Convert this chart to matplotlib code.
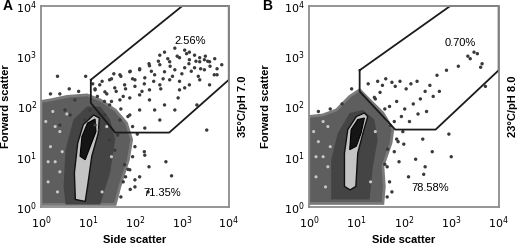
import matplotlib.pyplot as plt
import numpy as np
from matplotlib.patches import Polygon

plt.rcParams['font.family'] = ['Liberation Sans', 'DejaVu Sans']

# all coordinates are log10 of side scatter (x) and forward scatter (y)
TICKS = [0, 1, 2, 3, 4]
TICK_LABELS = ['$10^{0}$', '$10^{1}$', '$10^{2}$', '$10^{3}$', '$10^{4}$']

# panel A, 35C / pH 7.0
gate_a = [(1.06, 2.53), (3.01, 4.0), (4.0, 4.0), (4.0, 2.53), (2.73, 1.48), (1.58, 1.48), (1.06, 2.07)]
cloud_a = [(0, 0.05), (1.58, 0.05), (1.68, 0.41), (1.86, 0.94), (1.93, 1.34), (1.82, 1.67), (1.58, 1.93),
           (1.26, 2.13), (0.98, 2.23), (0.55, 2.20), (0.20, 2.13), (0, 2.10)]
mid_a = [(0.52, 0.05), (1.26, 0.05), (1.47, 0.68), (1.58, 1.34), (1.47, 1.74), (1.26, 2.0), (0.98, 2.0),
         (0.69, 1.74), (0.52, 1.14), (0.48, 0.41)]
ring_a = [(0.73, 0.15), (0.71, 0.68), (0.78, 1.27), (0.90, 1.64), (1.12, 1.83), (1.24, 1.77), (1.22, 1.47),
          (1.08, 1.01), (0.99, 0.41), (0.94, 0.11)]
core_a = [(0.83, 1.01), (0.87, 1.40), (0.99, 1.67), (1.15, 1.75), (1.17, 1.50), (1.05, 1.21), (0.94, 0.94)]
dots_ax = [2.53, 2.63, 2.85, 3.06, 3.16, 3.27, 3.38, 3.48, 3.59, 3.38, 3.16, 2.95, 2.74, 2.53, 2.31, 2.10,
           1.89, 1.68, 1.46, 1.25, 1.15, 1.36, 1.57, 1.78, 2.0, 2.21, 2.42, 2.63, 2.85, 3.06, 3.27, 3.48,
           3.69, 2.74, 2.53, 2.31, 2.10, 1.89, 1.68, 1.46, 1.36, 2.95, 3.16, 3.38, 2.85, 2.63, 2.42, 1.68,
           1.89, 2.10, 2.31, 2.66, 2.21, 1.89, 2.0, 1.78, 1.57, 1.63, 1.46, 1.25, 1.15, 0.93, 0.62, 0.40,
           0.51, 0.72, 1.04, 2.21, 2.53, 2.92, 3.06, 3.59, 3.32, 2.28, 2.78, 3.53, 3.85, 3.75, 2.0, 1.8,
           1.1, 1.2, 1.3, 1.4, 1.5, 1.6, 1.7, 1.8, 1.9, 2.0, 2.1, 2.2, 2.3, 2.4, 2.5, 2.6, 2.7, 2.8,
           2.9, 3.0, 3.1, 3.2, 3.3, 3.4, 3.5, 3.6, 3.7, 1.15, 1.35, 1.55, 1.75, 1.95, 2.15, 2.35, 2.55,
           2.75, 2.95, 3.15, 3.35, 3.55, 3.75,
           1.7, 1.75, 1.85, 1.95, 2.0, 2.05, 1.95, 1.85, 1.7, 1.5, 0.8, 0.6, 0.4, 0.2, 0.35, 0.95, 2.2,
           2.3, 2.1, 1.9]
dots_ay = [3.02, 3.08, 3.16, 3.12, 3.08, 3.02, 2.97, 2.93, 2.89, 2.89, 2.93, 2.97, 2.89, 2.83, 2.81, 2.73,
           2.69, 2.63, 2.53, 2.43, 2.33, 2.29, 2.37, 2.43, 2.53, 2.57, 2.63, 2.69, 2.73, 2.77, 2.77, 2.73,
           2.63, 2.53, 2.43, 2.33, 2.23, 2.17, 2.13, 2.03, 1.83, 2.33, 2.43, 2.53, 1.93, 2.03, 1.93, 1.73,
           1.83, 1.93, 2.13, 0.90, 1.03, 0.74, 0.54, 0.84, 1.13, 1.43, 1.33, 1.53, 1.63, 1.73, 1.83, 1.63,
           1.93, 2.13, 1.93, 1.57, 1.73, 2.17, 2.37, 2.43, 2.03, 0.30, 0.62, 1.53, 2.83, 2.63, 0.40, 0.60,
           2.45, 2.2, 2.5, 2.25, 2.55, 2.3, 2.6, 2.35, 2.7, 2.4, 2.75, 2.45, 2.85, 2.5, 2.9, 2.55, 2.95, 2.6,
           3.0, 2.65, 3.05, 2.7, 2.9, 2.75, 3.0, 2.8, 2.95, 2.35, 2.1, 2.65, 2.2, 2.55, 2.3, 2.7, 2.35,
           2.8, 2.5, 2.85, 2.6, 2.9, 2.75,
           0.2, 0.5, 0.75, 1.0, 1.2, 1.45, 1.6, 1.8, 1.95, 2.1, 2.3, 2.35, 2.25, 2.25, 2.6, 2.6, 1.1,
           0.8, 0.6, 0.35]
light_ax = [0.15, 0.3, 0.2, 0.4, 0.1, 0.35, 0.25, 0.45, 0.15, 0.4, 0.3, 0.55, 1.4, 1.5, 1.3]
light_ay = [0.5, 0.9, 1.2, 1.5, 1.7, 0.3, 1.9, 1.1, 0.9, 0.7, 1.6, 1.85, 1.6, 1.0, 0.3]

# panel B, 23C / pH 8.0
gate_b = [(1.07, 2.72), (2.98, 4.0), (4.0, 4.0), (4.0, 2.72), (2.67, 1.54), (1.82, 1.54), (1.07, 2.30)]
cloud_b = [(0, 0.07), (1.56, 0.07), (1.59, 0.41), (1.56, 0.81), (1.73, 1.27), (1.77, 1.54), (1.56, 1.87),
           (1.28, 2.13), (1.07, 2.33), (0.86, 2.20), (0.58, 1.93), (0.29, 1.83), (0, 1.80)]
mid_b = [(0.47, 0.15), (1.28, 0.15), (1.35, 0.81), (1.45, 1.34), (1.38, 1.74), (1.14, 1.93), (0.86, 1.87),
         (0.61, 1.47), (0.47, 0.94)]
ring_b = [(0.75, 0.41), (0.75, 1.07), (0.82, 1.54), (1.0, 1.80), (1.17, 1.87), (1.24, 1.80), (1.14, 1.47),
          (1.03, 1.07), (0.99, 0.41), (0.87, 0.34)]
core_b = [(0.86, 1.14), (0.89, 1.54), (1.03, 1.74), (1.17, 1.77), (1.10, 1.47), (1.0, 1.21)]
dots_bx = [1.25, 1.45, 1.55, 1.62, 1.75, 1.82, 1.92, 2.05, 2.15, 2.28, 2.45, 2.55, 2.62, 2.35, 2.20, 2.02,
           1.85, 1.70, 1.50, 1.38, 1.95, 2.12, 2.30, 2.48, 2.70, 2.90, 3.15, 3.35, 3.55, 3.65, 3.62, 3.40,
           3.48, 2.75, 2.40, 2.60, 2.25, 1.98, 1.88, 1.72, 2.10, 1.60, 1.66, 2.45, 2.42, 3.00, 3.72, 2.95,
           1.65, 1.7, 1.65, 1.8, 1.85, 1.8, 1.6, 1.4, 0.9, 0.7, 0.45, 0.2, 1.9, 2.0, 1.75]
dots_by = [2.45, 2.50, 2.42, 2.55, 2.48, 2.40, 2.50, 2.35, 2.45, 2.50, 2.30, 2.42, 2.20, 2.15, 2.05, 1.95,
           2.10, 2.00, 2.28, 2.18, 1.80, 1.70, 1.85, 1.90, 2.62, 2.72, 2.80, 3.00, 3.05, 2.85, 2.78, 2.95,
           3.08, 2.30, 1.35, 1.10, 0.95, 1.50, 1.30, 1.62, 0.60, 0.85, 1.15, 0.80, 0.65, 1.00, 2.40, 1.45,
           0.2, 0.5, 0.8, 1.1, 1.35, 1.7, 1.95, 2.15, 2.35, 2.05, 1.95, 1.9, 0.9, 1.25, 0.3]
light_bx = [0.15, 0.3, 0.2, 0.4, 0.1, 0.35, 0.45, 0.15, 0.4, 0.3, 1.4, 1.3]
light_by = [0.6, 1.0, 1.3, 1.6, 1.5, 0.4, 1.2, 1.0, 0.8, 1.7, 1.5, 0.5]

PANELS = [
    ('A', '35°C/pH 7.0', '2.56%', (3.17, 3.3), '71.35%', (2.59, 0.28), -0.18, -0.16,
     gate_a, cloud_a, mid_a, ring_a, core_a, dots_ax, dots_ay, light_ax, light_ay),
    ('B', '23°C/pH 8.0', '0.70%', (3.18, 3.26), '78.58%', (2.55, 0.38), -0.22, -0.2,
     gate_b, cloud_b, mid_b, ring_b, core_b, dots_bx, dots_by, light_bx, light_by),
]


def draw_panel(ax, letter, cond, pct_in, pos_in, pct_out, pos_out, letter_x, ylab_x,
               gate, cloud, mid, ring, core, dx, dy, lx, ly):
    ax.set_xlim(0, 4)
    ax.set_ylim(0, 4)
    ax.add_patch(Polygon(cloud, closed=True, fc='#5e5e5e', ec='#7a7a7a', lw=2))
    ax.add_patch(Polygon(mid, closed=True, fc='#444444', ec='none'))
    ax.scatter(lx, ly, s=5, c='#c8c8c8', edgecolors='none')
    ax.add_patch(Polygon(ring, closed=True, fc='#c4c4c4', ec='#111111', lw=1.0))
    ax.add_patch(Polygon(core, closed=True, fc='#151515', ec='#000000', lw=0.8))
    ax.scatter(dx, dy, s=6, c='#3a3a3a', edgecolors='none')
    gx = [p[0] for p in gate] + [gate[0][0]]
    gy = [p[1] for p in gate] + [gate[0][1]]
    ax.plot(gx, gy, color='#1a1a1a', lw=1.3, clip_on=False)
    ax.text(pos_in[0], pos_in[1], pct_in, fontsize=8, ha='center', va='center')
    ax.text(pos_out[0], pos_out[1], pct_out, fontsize=8, ha='center', va='center')
    ax.set_xticks(TICKS)
    ax.set_xticklabels(TICK_LABELS)
    ax.set_yticks(TICKS)
    ax.set_yticklabels(TICK_LABELS)
    ax.tick_params(axis='x', labelsize=8, length=0, pad=5)
    ax.tick_params(axis='y', labelsize=8, length=0, pad=3)
    for s in ax.spines.values():
        s.set_color('#8c8c8c')
        s.set_linewidth(1.3)
    ax.set_xlabel('Side scatter', fontsize=8, fontweight='bold')
    ax.set_ylabel('Forward scatter', fontsize=8, fontweight='bold')
    ax.xaxis.set_label_coords(0.5, -0.14)
    ax.yaxis.set_label_coords(ylab_x, 0.5)
    ax.text(1.074, 0.5, cond, transform=ax.transAxes, rotation=90, fontsize=8, fontweight='bold',
            ha='center', va='center')
    ax.text(letter_x, 1.0, letter, transform=ax.transAxes, fontsize=10, fontweight='bold',
            ha='center', va='center')


fig = plt.figure(figsize=(5.2, 2.47), dpi=100)
ax_a = fig.add_axes([0.079, 0.162, 0.361, 0.814])
ax_b = fig.add_axes([0.594, 0.162, 0.365, 0.814])
for ax, p in zip([ax_a, ax_b], PANELS):
    draw_panel(ax, *p)

fig.savefig('out.png', dpi=100)
